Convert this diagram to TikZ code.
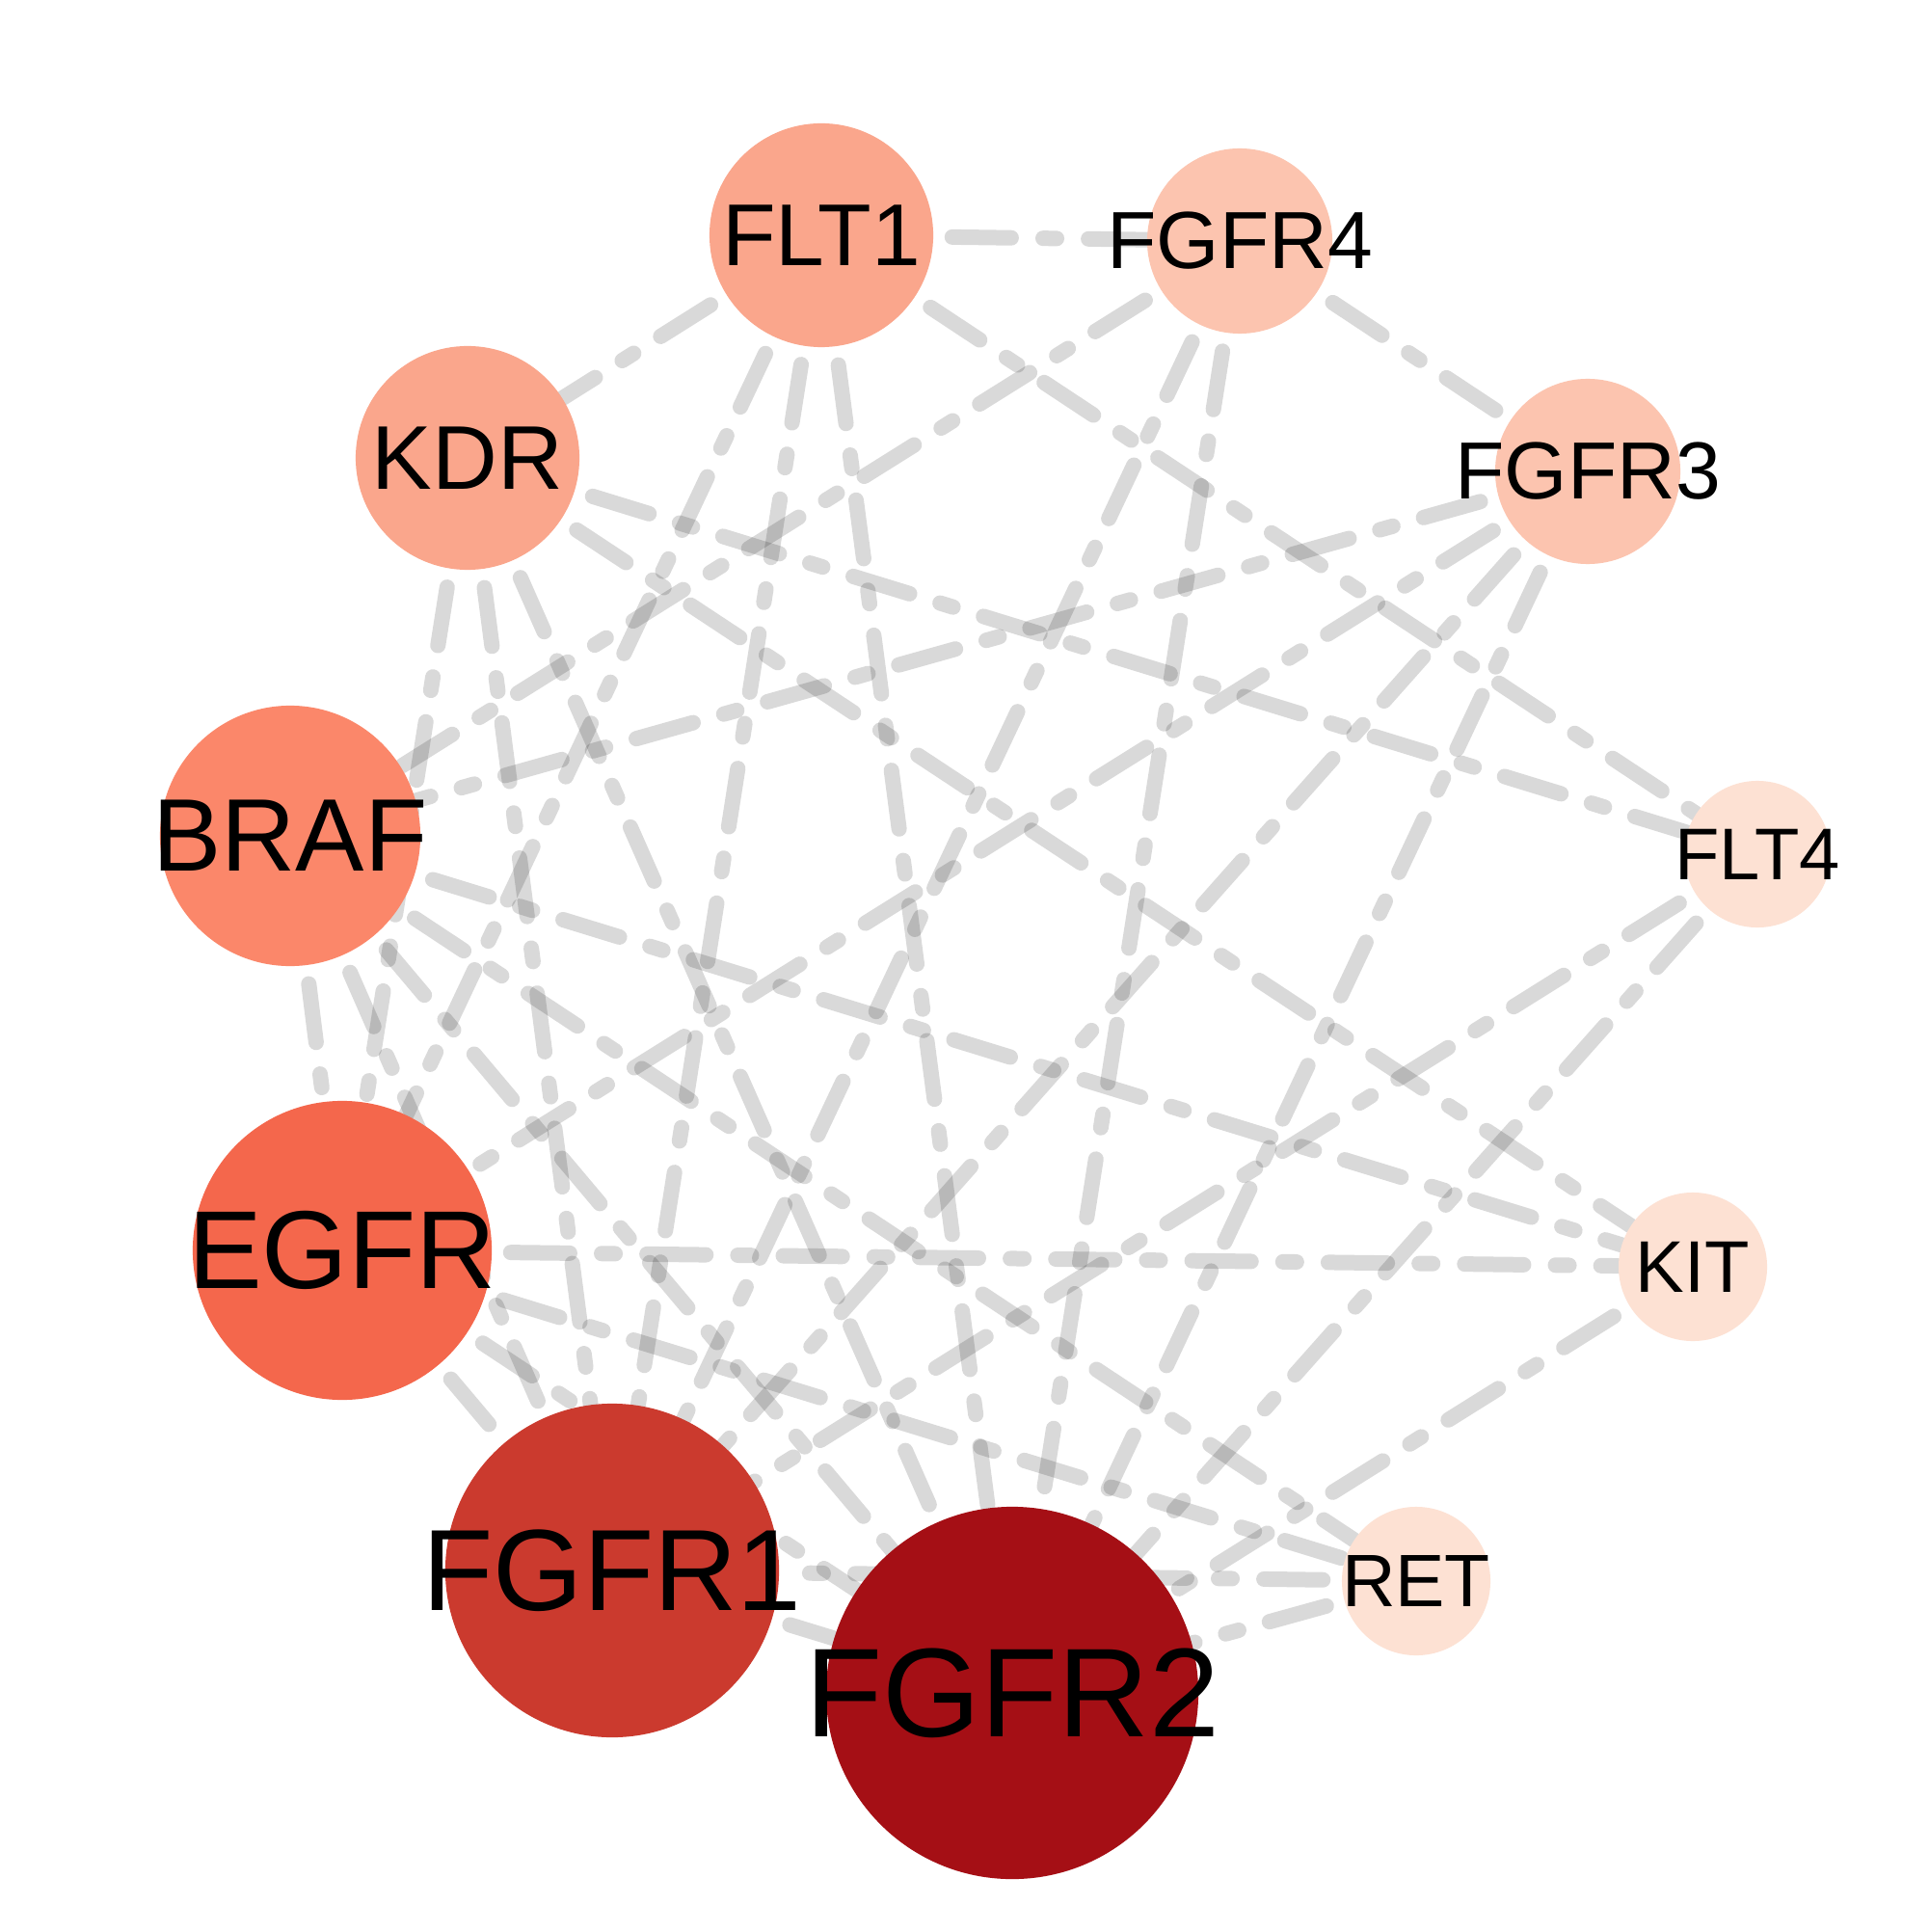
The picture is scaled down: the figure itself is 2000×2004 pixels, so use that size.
\documentclass[tikz,border=0pt]{standalone}
\usepackage{fontspec}
\setmainfont{Liberation Sans}
\usetikzlibrary{backgrounds}
\definecolor{cA}{HTML}{A50F15}
\definecolor{cB}{HTML}{CB3A2E}
\definecolor{cC}{HTML}{F4674C}
\definecolor{cD}{HTML}{FB876A}
\definecolor{cE}{HTML}{FAA68C}
\definecolor{cF}{HTML}{FCC4AF}
\definecolor{cG}{HTML}{FDE1D3}
\begin{document}
\begin{tikzpicture}[x=0.01cm,y=-0.01cm,
  vtx/.style 2 args={circle,inner sep=0pt,minimum size=#1,fill=#2,draw=none},
  lab/.style={font=\fontsize{#1pt}{#1pt}\selectfont,inner sep=0pt,text=black},
  lnk/.style={draw=black,draw opacity=0.15,line width=4.55pt,line cap=round,
    dash pattern=on 17.4pt off 9.4pt on 4pt off 9.4pt,dash phase=34.8pt}]
\useasboundingbox (0,0) rectangle (2000,2004);
% vertices
\node[vtx={2.32cm}{cE}] (FLT1)  at (852,244)  {};
\node[vtx={1.92cm}{cF}] (FGFR4) at (1286,250) {};
\node[vtx={2.32cm}{cE}] (KDR)   at (485,475)  {};
\node[vtx={1.92cm}{cF}] (FGFR3) at (1647,489) {};
\node[vtx={2.70cm}{cD}] (BRAF)  at (301,867)  {};
\node[vtx={1.52cm}{cG}] (FLT4)  at (1823,886) {};
\node[vtx={3.10cm}{cC}] (EGFR)  at (355,1297) {};
\node[vtx={1.54cm}{cG}] (KIT)   at (1756,1314) {};
\node[vtx={3.46cm}{cB}] (FGFR1) at (635,1629) {};
\node[vtx={1.54cm}{cG}] (RET)   at (1469,1640) {};
\node[vtx={3.86cm}{cA}] (FGFR2) at (1050,1756) {};
% labels
\node[lab=25.9] (tFLT1)  at (FLT1)  {FLT1};
\node[lab=23.9] (tFGFR4) at (FGFR4) {FGFR4};
\node[lab=26.7] (tKDR)   at (KDR)   {KDR};
\node[lab=23.9] (tFGFR3) at (FGFR3) {FGFR3};
\node[lab=30.4] (tBRAF)  at (BRAF)  {BRAF};
\node[lab=21.6] (tFLT4)  at (FLT4)  {FLT4};
\node[lab=32.7] (tEGFR)  at (EGFR)  {EGFR};
\node[lab=21.6] (tKIT)   at (KIT)   {KIT};
\node[lab=34.1] (tFGFR1) at (FGFR1) {FGFR1};
\node[lab=21.9] (tRET)   at (RET)   {RET};
\node[lab=37.3] (tFGFR2) at (FGFR2) {FGFR2};
% edges
\begin{pgfonlayer}{background}
\fill[white] (0,0) rectangle (2000,2004);
\draw[lnk] (FLT1) -- (FGFR4);
\draw[lnk] (FLT1) -- (KDR);
\draw[lnk] (FLT1) -- (FLT4);
\draw[lnk] (FLT1) -- (EGFR);
\draw[lnk] (FLT1) -- (FGFR1);
\draw[lnk] (FLT1) -- (FGFR2);
\draw[lnk] (FGFR4) -- (FGFR3);
\draw[lnk] (FGFR4) -- (BRAF);
\draw[lnk] (FGFR4) -- (FGFR1);
\draw[lnk] (FGFR4) -- (FGFR2);
\draw[lnk] (FGFR3) -- (BRAF);
\draw[lnk] (FGFR3) -- (EGFR);
\draw[lnk] (FGFR3) -- (FGFR1);
\draw[lnk] (FGFR3) -- (FGFR2);
\draw[lnk] (KDR) -- (FLT4);
\draw[lnk] (KDR) -- (KIT);
\draw[lnk] (KDR) -- (EGFR);
\draw[lnk] (KDR) -- (FGFR1);
\draw[lnk] (KDR) -- (FGFR2);
\draw[lnk] (BRAF) -- (EGFR);
\draw[lnk] (BRAF) -- (KIT);
\draw[lnk] (BRAF) -- (RET);
\draw[lnk] (BRAF) -- (FGFR1);
\draw[lnk] (BRAF) -- (FGFR2);
\draw[lnk] (EGFR) -- (KIT);
\draw[lnk] (EGFR) -- (RET);
\draw[lnk] (EGFR) -- (FGFR1);
\draw[lnk] (EGFR) -- (FGFR2);
\draw[lnk] (FLT4) -- (FGFR1);
\draw[lnk] (FLT4) -- (FGFR2);
\draw[lnk] (KIT) -- (FGFR2);
\draw[lnk] (RET) -- (FGFR1);
\draw[lnk] (RET) -- (FGFR2);
\draw[lnk] (FGFR1) -- (FGFR2);
\end{pgfonlayer}
\end{tikzpicture}
\end{document}
